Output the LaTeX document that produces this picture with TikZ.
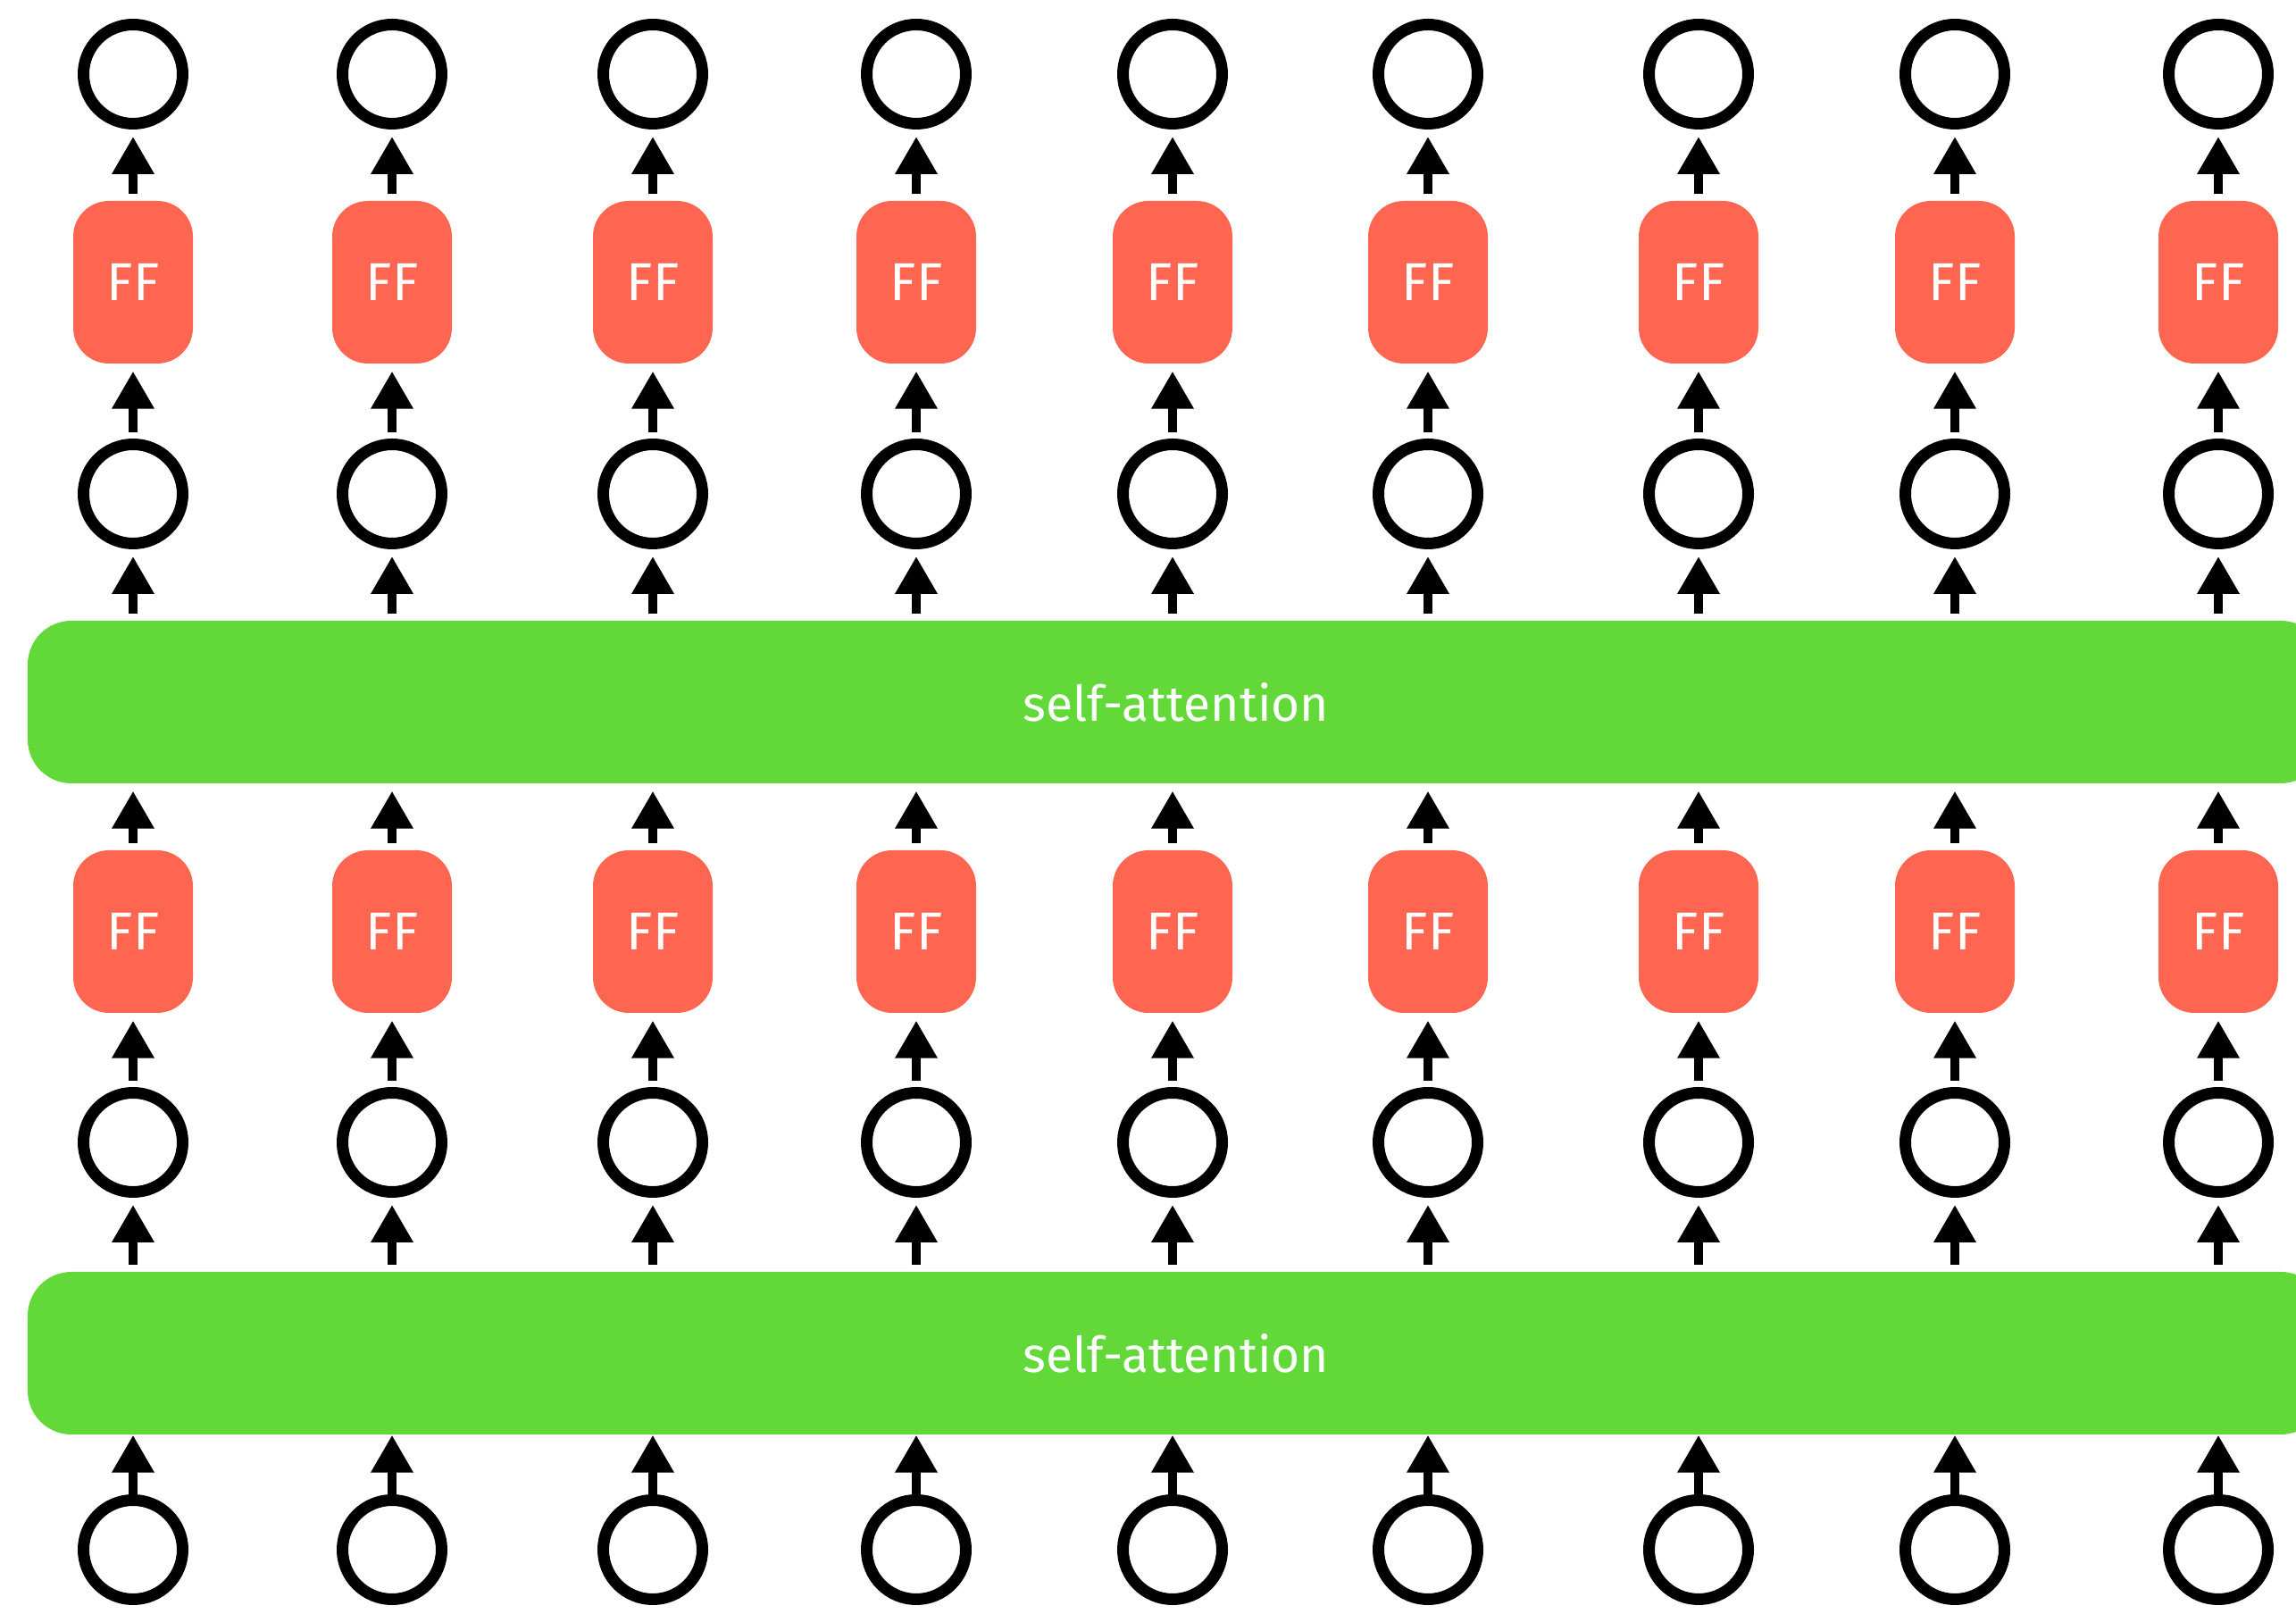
\documentclass[tikz,border=0pt]{standalone}
\usepackage{fontspec}
\setmainfont{Fira Sans}
\usepackage{tikz}
\usetikzlibrary{arrows.meta,positioning}
\definecolor{ffred}{HTML}{FF6651}
\definecolor{attgreen}{HTML}{62D938}

\begin{document}
\begin{tikzpicture}[
   unit/.style={circle,draw=black,line width=0.13cm,minimum size=1.11cm,inner sep=0pt},
   ff/.style={rectangle,rounded corners=0.4cm,fill=ffred,text=white,
      minimum width=1.34cm,minimum height=1.82cm,inner sep=0pt,font=\fontsize{17}{20}\selectfont},
   att/.style={rectangle,rounded corners=0.49cm,fill=attgreen,text=white,
      minimum width=25.72cm,minimum height=1.82cm,font=\fontsize{15.7}{19}\selectfont},
   arr/.style={line width=0.1cm,-{Triangle[length=0.42cm,width=0.45cm]},
      shorten >=0.08cm,shorten <=0.07cm}]
  \useasboundingbox (0,0) rectangle (25.71,18.07);
  \node[att] (att1) at (13.17,2.92) {self-attention};
  \node[att] (att2) at (13.17,10.21) {self-attention};
  \foreach \x [count=\i] in {1.49,4.39,7.31,10.26,13.13,15.99,19.02,21.89,24.84}{
     \node[unit] (in\i) at (\x,0.72) {};
     \node[unit] (h\i) at (\x,5.28) {};
     \node[ff] (ffa\i) at (\x,7.64) {FF};
     \node[unit] (g\i) at (\x,12.54) {};
     \node[ff] (ffb\i) at (\x,14.91) {FF};
     \node[unit] (out\i) at (\x,17.24) {};
     \draw[arr,shorten >=0pt,shorten <=0pt] (in\i) -- (in\i |- att1.south);
     \draw[arr] (h\i |- att1.north) -- (h\i);
     \draw[arr] (h\i) -- (ffa\i);
     \draw[arr] (ffa\i) -- (ffa\i |- att2.south);
     \draw[arr] (g\i |- att2.north) -- (g\i);
     \draw[arr] (g\i) -- (ffb\i);
     \draw[arr] (ffb\i) -- (out\i);
  }
\end{tikzpicture}
\end{document}
